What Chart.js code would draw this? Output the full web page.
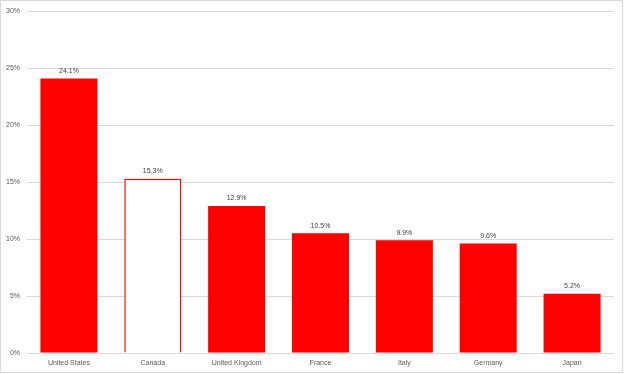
<!DOCTYPE html>
<html><head><meta charset="utf-8">
<script src="https://cdn.jsdelivr.net/npm/chart.js@4/dist/chart.umd.min.js"></script>
<style>html,body{margin:0;padding:0;background:#fff}#w{width:624px;height:374px;position:relative}</style>
</head><body><div id="w"><canvas id="c" width="624" height="374"></canvas></div>
<script>
const categories = ["United States","Canada","United Kingdom","France","Italy","Germany","Japan"];
const values = [24.1,15.3,12.9,10.5,9.9,9.6,5.2];
const yTicks = [0,5,10,15,20,25,30];
const highlightIndex = 1;

const FONT = "'Liberation Sans', Arial, sans-serif";

const borderPlugin = {
  id: 'border',
  beforeDraw(chart){
    const ctx = chart.ctx;
    ctx.save();
    ctx.fillStyle = '#fff';
    ctx.fillRect(0,0,chart.width,chart.height);
    ctx.strokeStyle = '#d9d9d9';
    ctx.lineWidth = 1;
    ctx.strokeRect(0.5,0.5,chart.width-2,chart.height-2);
    ctx.restore();
  }
};
const labelPlugin = {
  id: 'vlabels',
  afterDatasetsDraw(chart){
    const ctx = chart.ctx;
    const meta = chart.getDatasetMeta(0);
    ctx.save();
    ctx.font = '7px ' + FONT;
    ctx.fillStyle = '#404040';
    ctx.textAlign = 'center';
    ctx.textBaseline = 'bottom';
    meta.data.forEach((bar,i)=>{
      ctx.fillText(values[i].toFixed(1)+'%', bar.x, bar.y - 4);
    });
    ctx.restore();
  }
};

new Chart(document.getElementById('c'), {
  type: 'bar',
  data: {
    labels: categories,
    datasets: [{
      data: values,
      backgroundColor: values.map((v,i)=> i===highlightIndex ? '#ffffff' : '#ff0000'),
      borderColor: '#ff0000',
      borderWidth: values.map((v,i)=> i===highlightIndex ? 1.5 : 0),
      categoryPercentage: 1,
      barPercentage: 0.68
    }]
  },
  options: {
    responsive: false,
    animation: false,
    layout: { padding: { left: 0, right: 10, top: 6, bottom: 0 } },
    plugins: { legend: { display: false }, tooltip: { enabled: false } },
    scales: {
      x: {
        grid: { display: false, drawTicks: false },
        border: { display: false },
        ticks: { color: '#595959', font: { family: FONT, size: 7 }, padding: 6, maxRotation: 0 },
        afterFit(s){ s.height = 21; }
      },
      y: {
        min: 0, max: 30,
        afterBuildTicks(s){ s.ticks = yTicks.map(v=>({value:v})); },
        grid: { color: '#d9d9d9', lineWidth: 1, drawTicks: false },
        border: { display: false },
        ticks: { color: '#595959', font: { family: FONT, size: 7 }, padding: 7, callback: v => v + '%' },
        afterFit(s){ s.width = 27; }
      }
    }
  },
  plugins: [borderPlugin, labelPlugin]
});
</script></body></html>
